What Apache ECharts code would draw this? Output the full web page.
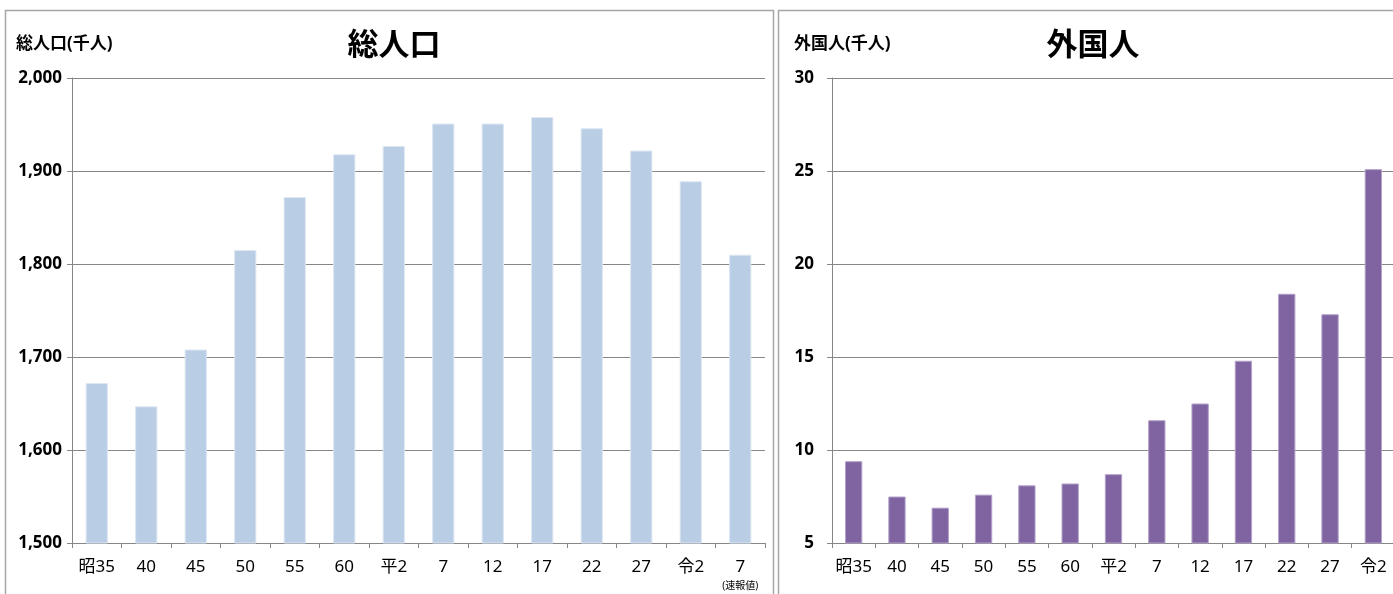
<!DOCTYPE html>
<html>
<head>
<meta charset="utf-8">
<script src="https://cdn.jsdelivr.net/npm/echarts@6/dist/echarts.min.js"></script>
<style>
html,body{margin:0;padding:0;background:#fff;}
#c{width:1393px;height:594px;}
</style>
</head>
<body>
<div id="c"></div>
<script>
// ---- data ----
const categoriesTotal = ['昭35','40','45','50','55','60','平2','7','12','17','22','27','令2','7'];
const totalPop = [1672,1647,1708,1815,1872,1918,1927,1951,1951,1958,1946,1922,1889,1810];
const categoriesForeign = ['昭35','40','45','50','55','60','平2','7','12','17','22','27','令2'];
const foreignPop = [9.4,7.5,6.9,7.6,8.1,8.2,8.7,11.6,12.5,14.8,18.4,17.3,25.1];
const totalTicks = {min:1500, max:2000, interval:100};
const foreignTicks = {min:5, max:30, interval:5};

const FONT = "'Noto Sans','Noto Sans CJK JP',sans-serif";
const GRAY = '#868686';

const chart = echarts.init(document.getElementById('c'), null, {renderer:'canvas'});

function yAxis(idx, t, margin, fmt){
  return {
    type:'value', gridIndex:idx, min:t.min, max:t.max, interval:t.interval,
    axisLine:{show:true, lineStyle:{color:GRAY, width:1}},
    axisTick:{show:true, length:5, lineStyle:{color:GRAY}},
    splitLine:{show:true, lineStyle:{color:GRAY, width:1.2}},
    axisLabel:{margin:margin, fontFamily:FONT, fontSize:17, fontWeight:'bold', color:'#000', formatter:fmt}
  };
}
function xAxis(idx, cats, lastNote){
  return {
    type:'category', gridIndex:idx, data:cats, boundaryGap:true,
    axisLine:{show:true, lineStyle:{color:GRAY, width:1.2}},
    axisTick:{show:true, length:5, alignWithLabel:false, lineStyle:{color:GRAY}},
    axisLabel:{
      margin:14, interval:0, fontFamily:FONT, fontSize:17, color:'#000', lineHeight:20,
      formatter:(v,i)=> (lastNote && i===cats.length-1) ? v+'\n{s|(速報値)}' : v,
      rich:{s:{fontSize:10, lineHeight:18, fontFamily:FONT, color:'#000'}}
    }
  };
}

chart.setOption({
  animation:false,
  backgroundColor:'#fff',
  title:[
    {text:'総人口', left:389, top:26, textAlign:'center',
     textStyle:{fontFamily:FONT, fontSize:31, fontWeight:'bold', color:'#000'}},
    {text:'外国人', left:1088, top:26, textAlign:'center',
     textStyle:{fontFamily:FONT, fontSize:31, fontWeight:'bold', color:'#000'}}
  ],
  graphic:[
    {type:'rect', shape:{x:5.5, y:10.5, width:768, height:600}, style:{fill:null, stroke:'#a6a6a6', lineWidth:1.5}, z:-1},
    {type:'rect', shape:{x:778.5, y:10.5, width:640, height:600}, style:{fill:null, stroke:'#a6a6a6', lineWidth:1.5}, z:-1},
    {type:'text', left:16, top:36, style:{text:'総人口(千人)', font:"bold 17px "+FONT, fill:'#000'}},
    {type:'text', left:794, top:36, style:{text:'外国人(千人)', font:"bold 17px "+FONT, fill:'#000'}}
  ],
  grid:[
    {left:72, top:78, width:693, height:465, containLabel:false, outerBoundsMode:'none'},
    {left:832, top:78, width:563, height:465, containLabel:false, outerBoundsMode:'none'}
  ],
  xAxis:[ xAxis(0, categoriesTotal, true), xAxis(1, categoriesForeign, false) ],
  yAxis:[
    yAxis(0, totalTicks, 10, v=>v.toLocaleString('en-US')),
    yAxis(1, foreignTicks, 18, v=>String(v))
  ],
  series:[
    {type:'bar', xAxisIndex:0, yAxisIndex:0, data:totalPop, barCategoryGap:'55%',
     itemStyle:{color:'#b9cde5', borderColor:'#dde7f3', borderWidth:1}},
    {type:'bar', xAxisIndex:1, yAxisIndex:1, data:foreignPop, barCategoryGap:'60%',
     itemStyle:{color:'#8064a2', borderColor:'#b3a2c9', borderWidth:1}}
  ]
});
</script>
</body>
</html>
